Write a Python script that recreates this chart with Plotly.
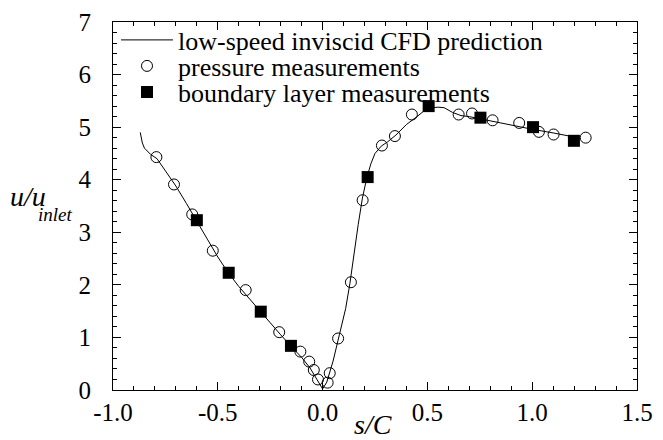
import plotly.graph_objects as go

# CFD prediction line
cfd_s = [-0.87, -0.86, -0.85, -0.82, -0.79, -0.75, -0.70, -0.65, -0.60, -0.55, -0.50, -0.45,
         -0.40, -0.35, -0.30, -0.25, -0.20, -0.15, -0.10, -0.06, -0.03, 0.00, 0.02, 0.05,
         0.08, 0.11, 0.13, 0.15, 0.17, 0.19, 0.21, 0.23, 0.25, 0.28, 0.31, 0.35, 0.40,
         0.45, 0.50, 0.55, 0.58, 0.62, 0.66, 0.70, 0.75, 0.80, 0.90, 1.00, 1.10, 1.20, 1.23]
cfd_u = [4.90, 4.70, 4.60, 4.48, 4.40, 4.17, 3.88, 3.55, 3.22, 2.87, 2.53, 2.23,
         1.97, 1.74, 1.49, 1.27, 1.05, 0.83, 0.62, 0.42, 0.22, 0.02, 0.15, 0.55,
         1.05, 1.55, 2.02, 2.60, 3.15, 3.65, 4.02, 4.30, 4.50, 4.64, 4.72, 4.85, 5.05,
         5.20, 5.36, 5.38, 5.37, 5.28, 5.22, 5.20, 5.16, 5.11, 5.04, 4.96, 4.89, 4.81, 4.79]

# Pressure measurements
p_s = [-0.793, -0.709, -0.622, -0.524, -0.367, -0.207, -0.106, -0.064, -0.042, -0.022,
       0.024, 0.034, 0.074, 0.135, 0.191, 0.283, 0.345, 0.426, 0.649, 0.713, 0.811,
       0.938, 1.032, 1.102, 1.255]
p_u = [4.43, 3.91, 3.34, 2.65, 1.90, 1.10, 0.73, 0.54, 0.38, 0.20,
       0.14, 0.32, 0.98, 2.05, 3.61, 4.65, 4.83, 5.24, 5.24, 5.26, 5.13,
       5.08, 4.91, 4.86, 4.80]

# Boundary layer measurements
b_s = [-0.600, -0.448, -0.295, -0.151, 0.215, 0.506, 0.753, 1.004, 1.199]
b_u = [3.23, 2.23, 1.49, 0.84, 4.05, 5.40, 5.18, 5.00, 4.74]

x_ticks = [-1.0, -0.5, 0.0, 0.5, 1.0, 1.5]
x_ticklabels = ["-1.0", "-0.5", "0.0", "0.5", "1.0", "1.5"]
y_ticks = [0, 1, 2, 3, 4, 5, 6, 7]

FONT = "Liberation Serif"
L, R, T, B = 113, 26, 22, 50
W, H = 663, 440
PH = H - T - B
PW = W - L - R


def py(p):
    return (H - B - p) / PH


def px(p):
    return (p - L) / PW


fig = go.Figure()
fig.add_trace(go.Scatter(x=cfd_s, y=cfd_u, mode="lines", line=dict(color="black", width=1),
                         name="low-speed inviscid CFD prediction", legend="legend"))
fig.add_trace(go.Scatter(x=p_s, y=p_u, mode="markers",
                         marker=dict(symbol="circle-open", size=11, color="black", line=dict(width=1)),
                         name="pressure measurements", legend="legend2"))
fig.add_trace(go.Scatter(x=b_s, y=b_u, mode="markers",
                         marker=dict(symbol="square", size=12, color="black"),
                         name="boundary layer measurements", legend="legend3"))

axis_common = dict(showgrid=False, zeroline=False, showline=True, linecolor="black", linewidth=1,
                   mirror="allticks", ticks="inside", ticklen=8, tickcolor="black",
                   automargin=False,
                   tickfont=dict(family=FONT, size=25, color="black"))

fig.update_xaxes(range=[-1.0, 1.5], tickvals=x_ticks, ticktext=x_ticklabels,
                 minor=dict(dtick=0.1, ticks="inside", ticklen=4, tickcolor="black"),
                 **axis_common)
fig.update_yaxes(range=[0, 7], tickvals=y_ticks, ticklabelstandoff=16,
                 minor=dict(dtick=0.2, ticks="inside", ticklen=4, tickcolor="black"),
                 **axis_common)

# axis titles
fig.add_annotation(text="<i>s/C</i>", xref="paper", yref="paper",
                   x=px(373), y=py(424), xanchor="center", yanchor="middle", showarrow=False,
                   font=dict(family=FONT, size=28, color="black"))
fig.add_annotation(text="<i>u/u</i>", xref="paper", yref="paper",
                   x=px(8), y=py(197), xanchor="left", yanchor="middle", showarrow=False,
                   font=dict(family=FONT, size=28, color="black"))
fig.add_annotation(text="<i>inlet</i>", xref="paper", yref="paper",
                   x=px(36), y=py(215), xanchor="left", yanchor="middle", showarrow=False,
                   font=dict(family=FONT, size=19, color="black"))

leg_common = dict(xanchor="left", yanchor="middle", bgcolor="rgba(0,0,0,0)",
                  font=dict(family=FONT, size=26, color="black"), itemwidth=52)

fig.update_layout(
    width=W, height=H,
    margin=dict(l=L, r=R, t=T, b=B, autoexpand=False),
    paper_bgcolor="white", plot_bgcolor="white",
    font=dict(family=FONT, color="black"),
    legend=dict(x=px(116), y=py(40), **leg_common),
    legend2=dict(x=px(116), y=py(66), **leg_common),
    legend3=dict(x=px(116), y=py(92), **leg_common),
    showlegend=True,
)

fig.write_html("out.html", config={"displayModeBar": False},
               post_script="document.body.style.margin='0';")
